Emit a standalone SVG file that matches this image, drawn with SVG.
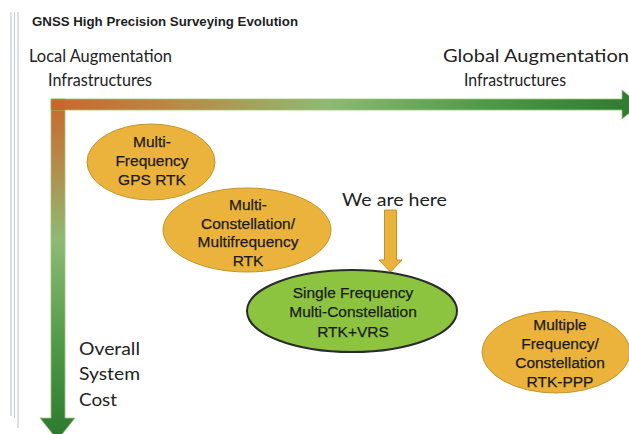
<svg xmlns="http://www.w3.org/2000/svg" width="629" height="434" viewBox="0 0 629 434">
  <defs>
    <linearGradient id="gh" x1="51" y1="0" x2="629" y2="0" gradientUnits="userSpaceOnUse">
      <stop offset="0" stop-color="#C9672A"/>
      <stop offset="0.22" stop-color="#B98A45"/>
      <stop offset="0.48" stop-color="#8EBA72"/>
      <stop offset="0.75" stop-color="#4E9A48"/>
      <stop offset="1" stop-color="#2F7B32"/>
    </linearGradient>
    <linearGradient id="gv" x1="0" y1="99" x2="0" y2="434" gradientUnits="userSpaceOnUse">
      <stop offset="0" stop-color="#C9672A"/>
      <stop offset="0.2" stop-color="#B58B4C"/>
      <stop offset="0.42" stop-color="#8EBA72"/>
      <stop offset="0.75" stop-color="#4C9846"/>
      <stop offset="1" stop-color="#2E7B31"/>
    </linearGradient>
  </defs>
  <style>
    .title{font-family:"Liberation Sans",Arial,sans-serif;font-weight:bold;font-size:13.5px;fill:#1e1e1e}
    .lbl{font-family:Lato,"Open Sans",sans-serif;font-size:18px;fill:#222}
    .nt{font-family:"Liberation Sans",Arial,sans-serif;font-size:15.5px;fill:#1a1a1a;stroke:#1a1a1a;stroke-width:0.25;text-anchor:middle}
    .y{fill:#EBB33B;stroke:#C0952E;stroke-width:1}
    .g{fill:#8DC43F;stroke:#2a2a2a;stroke-width:2}
  </style>
  <rect width="629" height="434" fill="#ffffff"/>
  <g id="frame-lines" fill="none">
    <line x1="11" y1="12" x2="11" y2="416" stroke="#C9D6EC" stroke-width="1.5"/>
    <line x1="14.5" y1="12" x2="14.5" y2="418" stroke="#C8CDD6" stroke-width="1"/>
    <line x1="18" y1="12" x2="18" y2="428" stroke="#D4D4D4" stroke-width="1.5"/>
  </g>
  <text class="title" x="32" y="26" textLength="266" lengthAdjust="spacingAndGlyphs">GNSS High Precision Surveying Evolution</text>
  <g id="axis-labels">
    <text class="lbl" x="29" y="62" textLength="143" lengthAdjust="spacingAndGlyphs">Local Augmentation</text>
    <text class="lbl" x="48" y="86" textLength="104" lengthAdjust="spacingAndGlyphs">Infrastructures</text>
    <text class="lbl" x="443" y="62" textLength="186" lengthAdjust="spacingAndGlyphs">Global Augmentation</text>
    <text class="lbl" x="464" y="86" textLength="102" lengthAdjust="spacingAndGlyphs">Infrastructures</text>
    <text class="lbl" x="79" y="355" textLength="61" lengthAdjust="spacingAndGlyphs">Overall</text>
    <text class="lbl" x="79" y="380" textLength="61" lengthAdjust="spacingAndGlyphs">System</text>
    <text class="lbl" x="79" y="406" textLength="38" lengthAdjust="spacingAndGlyphs">Cost</text>
    <text class="lbl" x="342" y="206" textLength="105" lengthAdjust="spacingAndGlyphs">We are here</text>
  </g>
  <g id="connectors">
    <path d="M51,99 H65 V418 H75 L57.5,440 L40,418 H51 Z" fill="url(#gv)" stroke="#9CC47C" stroke-width="0.8"/>
    <path d="M51,99 H622 V90 L640,104.5 L622,119 V110 H51 Z" fill="url(#gh)" stroke="#9CC47C" stroke-width="0.8"/>
    <path d="M51.5,99.5 H64.5 V110 H51.5 Z" fill="#C9672A"/>
    <path d="M384.5,210 H396.5 V260 H402 L390.5,272 L379,260 H384.5 Z" fill="#EBB33B" stroke="#C0952E" stroke-width="1"/>
  </g>
  <g id="node-gps-rtk">
    <ellipse class="y" cx="151" cy="162" rx="64" ry="38"/>
    <text class="nt" x="152" y="147">Multi-</text>
    <text class="nt" x="152" y="166">Frequency</text>
    <text class="nt" x="152" y="185">GPS RTK</text>
  </g>
  <g id="node-multi-constellation">
    <ellipse class="y" cx="247" cy="230" rx="84" ry="42"/>
    <text class="nt" x="248" y="210">Multi-</text>
    <text class="nt" x="248" y="229">Constellation/</text>
    <text class="nt" x="248" y="247">Multifrequency</text>
    <text class="nt" x="248" y="266">RTK</text>
  </g>
  <g id="node-single-frequency">
    <ellipse class="g" cx="352" cy="311" rx="105" ry="41"/>
    <text class="nt" x="353" y="298">Single Frequency</text>
    <text class="nt" x="353" y="317">Multi-Constellation</text>
    <text class="nt" x="353" y="337">RTK+VRS</text>
  </g>
  <g id="node-rtk-ppp">
    <ellipse class="y" cx="556" cy="352" rx="74" ry="41"/>
    <text class="nt" x="560" y="330">Multiple</text>
    <text class="nt" x="560" y="349">Frequency/</text>
    <text class="nt" x="560" y="368">Constellation</text>
    <text class="nt" x="560" y="387">RTK-PPP</text>
  </g>
</svg>
